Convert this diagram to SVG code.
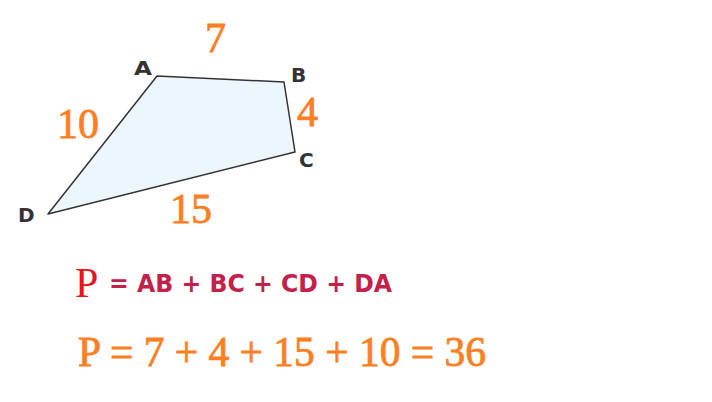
<svg xmlns="http://www.w3.org/2000/svg" width="712" height="402" viewBox="0 0 712 402">
<style>
.num{font-family:"Liberation Serif","DejaVu Serif",serif;fill:#fd7f24;stroke:#fd7f24;stroke-width:0.8;font-size:42px}
.vtx{font-family:"DejaVu Sans",sans-serif;font-weight:bold;fill:#333333;font-size:20px}
.eq{font-family:"DejaVu Sans",sans-serif;font-weight:bold;fill:#c2224a;font-size:24px}
</style>
<rect width="712" height="402" fill="#ffffff"/>
<g id="quad">
<polygon points="157,76 284,82 295,152 48,214" fill="#ebf6fd" stroke="#333333" stroke-width="1.5" stroke-linejoin="round"/>
</g>
<g id="vertex-labels">
<text class="vtx" x="134" y="75" textLength="18" lengthAdjust="spacingAndGlyphs">A</text>
<text class="vtx" x="291" y="82">B</text>
<text class="vtx" x="299" y="167">C</text>
<text class="vtx" x="18" y="222">D</text>
</g>
<g id="side-labels">
<text class="num" x="205" y="52">7</text>
<text class="num" x="57" y="138">10</text>
<text class="num" x="297" y="126">4</text>
<text class="num" x="170" y="223">15</text>
</g>
<g id="formula">
<text x="75" y="297" font-family="Liberation Serif,serif" font-size="42" fill="#e8141e">P</text>
<text class="eq" x="109" y="292" textLength="283" lengthAdjust="spacingAndGlyphs">= AB + BC + CD + DA</text>
</g>
<g id="calc">
<text class="num" x="78" y="366" textLength="408" lengthAdjust="spacingAndGlyphs">P = 7 + 4 + 15 + 10 = 36</text>
</g>
</svg>
